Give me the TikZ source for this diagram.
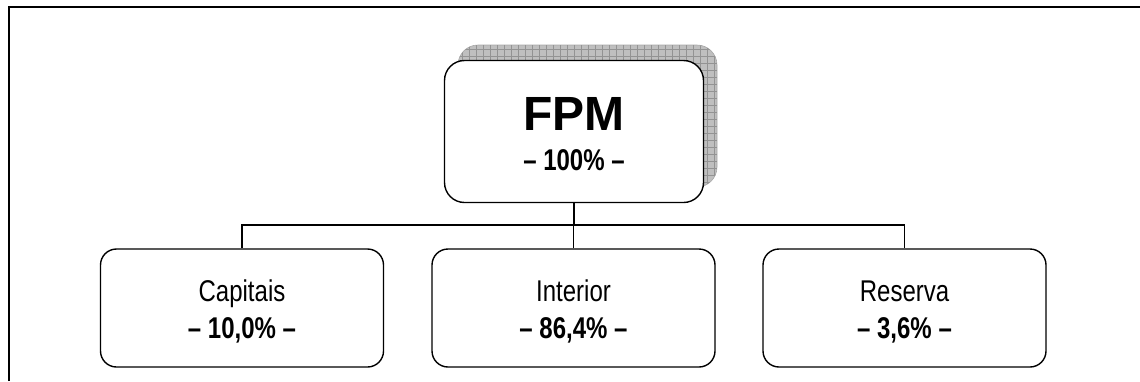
\documentclass[tikz,border=0pt]{standalone}
\usepackage{fontspec}
\setmainfont{Liberation Sans}
\newfontfamily\narrowsans[FakeStretch=0.8]{Liberation Sans}
\usetikzlibrary{calc}
\begin{document}
\begin{tikzpicture}[x=1pt,y=-1pt,
  unitbox/.style={draw=black,line width=1.4pt,rounded corners=16pt,fill=white,
    minimum width=283pt,minimum height=118pt,inner sep=0pt},
  topbox/.style={draw=black,line width=1.4pt,rounded corners=20pt,fill=white,
    minimum width=259pt,minimum height=142pt,inner sep=0pt},
  shadowbox/.style={fill=gray!50,draw=gray!70,line width=0.6pt,rounded corners=20pt},
  link/.style={draw=black,line width=1.1pt},
  frameline/.style={draw=black,line width=1.5pt},
  titlelabel/.style={anchor=base,font=\fontsize{48}{48}\selectfont\bfseries},
  unitlabel/.style={anchor=base,font=\narrowsans\fontsize{30}{30}\selectfont},
  sharelabel/.style={anchor=base,font=\narrowsans\fontsize{30}{30}\selectfont\bfseries}]
\useasboundingbox (0,0) rectangle (1140,381);
% outer frame (top and left edges)
\coordinate (fbl) at (9,381);
\coordinate (ftl) at (9,7);
\coordinate (ftr) at (1140,7);
\draw[frameline] (fbl) -- (ftl) -- (ftr);
% hatched shadow behind the top box
\begin{scope}
  \path[shadowbox] (458,45) rectangle (717,187);
  \clip[rounded corners=20pt] (458,45) rectangle (717,187);
  \draw[gray!85,line width=0.5pt,step=7pt] (458,45) grid (717,187);
\end{scope}
% boxes
\node[topbox] (fpm) at (574,131.5) {};
\node[unitbox] (cap) at (242,308) {};
\node[unitbox] (int) at (573.5,308) {};
\node[unitbox] (res) at (904.5,308) {};
% texts
\node[titlelabel] (fpmt) at (574,130) {FPM};
\node[sharelabel] (fpmp) at (574,170) {– 100\% –};
\node[unitlabel] (capt) at (242,301) {Capitais};
\node[sharelabel] (capp) at (242,338) {– 10,0\% –};
\node[unitlabel] (intt) at (573.5,301) {Interior};
\node[sharelabel] (intp) at (573.5,338) {– 86,4\% –};
\node[unitlabel] (rest) at (904.5,301) {Reserva};
\node[sharelabel] (resp) at (904.5,338) {– 3,6\% –};
% connectors
\coordinate (bus) at (573,225);
\draw[link] (fpm.south) -- (fpm.south |- bus);
\draw[link] (cap.north) -- (cap.north |- bus) -- (res.north |- bus) -- (res.north);
\draw[link] (int.north) -- (int.north |- bus);
\end{tikzpicture}
\end{document}
